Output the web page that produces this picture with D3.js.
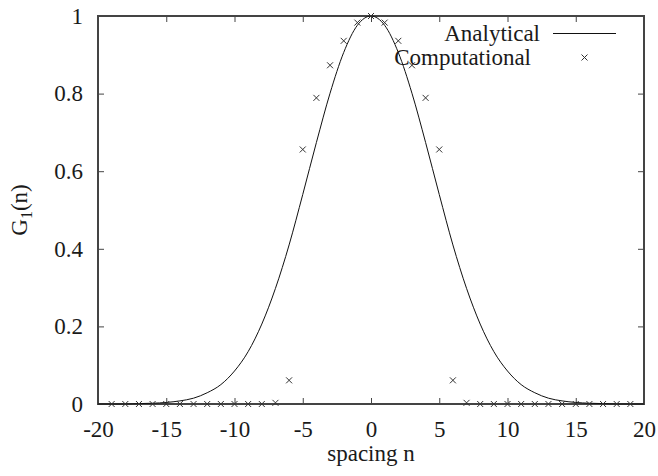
<!DOCTYPE html>
<html>
<head>
<meta charset="utf-8">
<script src="https://cdn.jsdelivr.net/npm/d3@7"></script>
<style>
  body { margin: 0; background: #fff; }
  text { font-family: "Liberation Serif", "Times New Roman", serif; fill: #1a1a1a; }
</style>
</head>
<body>
<script>
// analytical curve at each integer spacing
var analyticN = [-20, -19, -18, -17, -16, -15, -14, -13, -12, -11, -10, -9, -8, -7, -6, -5, -4, -3, -2, -1,
                 0, 1, 2, 3, 4, 5, 6, 7, 8, 9, 10, 11, 12, 13, 14, 15, 16, 17, 18, 19, 20];
var analyticG = [0, 0, 0, 0.001, 0.002, 0.004, 0.008, 0.015, 0.029, 0.05, 0.085, 0.135, 0.206, 0.298, 0.41, 0.54, 0.674, 0.801, 0.906, 0.976,
                 1, 0.976, 0.906, 0.801, 0.674, 0.54, 0.41, 0.298, 0.206, 0.135, 0.085, 0.05, 0.029, 0.015, 0.008, 0.004, 0.002, 0.001, 0, 0, 0];

// computational points
var compN = [-19, -18, -17, -16, -15, -14, -13, -12, -11, -10, -9, -8, -7, -6, -5, -4, -3, -2, -1,
             0, 1, 2, 3, 4, 5, 6, 7, 8, 9, 10, 11, 12, 13, 14, 15, 16, 17, 18, 19];
var compG = [0, 0, 0, 0, 0, 0, 0, 0, 0, 0, 0, 0, 0.003, 0.061, 0.656, 0.789, 0.873, 0.936, 0.983,
             1, 0.983, 0.936, 0.873, 0.789, 0.656, 0.061, 0.003, 0, 0, 0, 0, 0, 0, 0, 0, 0, 0, 0, 0];

var xTicks = [-20, -15, -10, -5, 0, 5, 10, 15, 20];
var yTicks = [0, 0.2, 0.4, 0.6, 0.8, 1];
var seriesNames = ["Analytical", "Computational"];

var W = 658, H = 476;
var margin = { top: 16, right: 14, bottom: 72, left: 98 },
    width = W - margin.left - margin.right,
    height = H - margin.top - margin.bottom;

var x = d3.scaleLinear().domain([-20, 20]).range([0, width]);
var y = d3.scaleLinear().domain([0, 1]).range([height, 0]);

var svg = d3.select("body").append("svg")
    .attr("width", W)
    .attr("height", H);

var g = svg.append("g")
    .attr("transform", "translate(" + margin.left + "," + margin.top + ")");

var fmt = function (d) { return String(+d.toFixed(1)); };
var axisColor = "#444";
var fs = "23px";

// axes, ticks pointing inward like gnuplot
var xAxis = g.append("g")
    .attr("transform", "translate(0," + height + ")")
    .call(d3.axisBottom(x).tickValues(xTicks).tickSize(-6).tickPadding(17).tickFormat(fmt));
var xTop = g.append("g")
    .call(d3.axisTop(x).tickValues(xTicks).tickSize(-6).tickFormat(""));
var yAxis = g.append("g")
    .call(d3.axisLeft(y).tickValues(yTicks).tickSize(-6).tickPadding(15).tickFormat(fmt));
var yRight = g.append("g")
    .attr("transform", "translate(" + width + ",0)")
    .call(d3.axisRight(y).tickValues(yTicks).tickSize(-6).tickFormat(""));

[xAxis, xTop, yAxis, yRight].forEach(function (a) {
    a.select(".domain").remove();
    a.selectAll(".tick line").attr("stroke", axisColor).attr("stroke-width", 1);
    a.selectAll("text")
        .style("font-family", "'Liberation Serif', serif")
        .style("font-size", fs)
        .attr("fill", "#1a1a1a");
});

// frame
g.append("rect")
    .attr("width", width)
    .attr("height", height)
    .attr("fill", "none")
    .attr("stroke", axisColor)
    .attr("stroke-width", 2);

// analytical line
var line = d3.line()
    .x(function (d, i) { return x(analyticN[i]); })
    .y(function (d) { return y(d); })
    .curve(d3.curveMonotoneX);

g.append("path")
    .datum(analyticG)
    .attr("fill", "none")
    .attr("stroke", "#111")
    .attr("stroke-width", 1)
    .attr("d", line);

// cross markers
function cross(sel, s) {
    sel.append("path")
        .attr("d", "M" + (-s) + "," + (-s) + "L" + s + "," + s + "M" + (-s) + "," + s + "L" + s + "," + (-s))
        .attr("stroke", "#333")
        .attr("stroke-width", 1)
        .attr("fill", "none");
}

g.selectAll(".pt")
    .data(compG)
    .enter().append("g")
    .attr("class", "pt")
    .attr("transform", function (d, i) { return "translate(" + x(compN[i]) + "," + y(d) + ")"; })
    .each(function () { cross(d3.select(this), 3); });

// legend
var leg = svg.append("g");
leg.append("text")
    .attr("x", 540).attr("y", 41)
    .attr("text-anchor", "end")
    .style("font-size", fs)
    .text(seriesNames[0]);
leg.append("line")
    .attr("x1", 553).attr("x2", 616)
    .attr("y1", 33.5).attr("y2", 33.5)
    .attr("stroke", "#111").attr("stroke-width", 1);
leg.append("text")
    .attr("x", 531).attr("y", 65)
    .attr("text-anchor", "end")
    .style("font-size", fs)
    .text(seriesNames[1]);
leg.append("g")
    .attr("transform", "translate(584.5,57.5)")
    .call(cross, 3);

// axis titles
svg.append("text")
    .attr("x", margin.left + x(0))
    .attr("y", 461)
    .attr("text-anchor", "middle")
    .style("font-size", fs)
    .text("spacing n");

var yt = svg.append("text")
    .attr("transform", "translate(27," + (margin.top + height / 2) + ") rotate(-90)")
    .attr("text-anchor", "middle")
    .style("font-size", fs);
yt.append("tspan").text("G");
yt.append("tspan").attr("dy", 5).style("font-size", "16px").text("1");
yt.append("tspan").attr("dy", -5).text("(n)");
</script>
</body>
</html>
